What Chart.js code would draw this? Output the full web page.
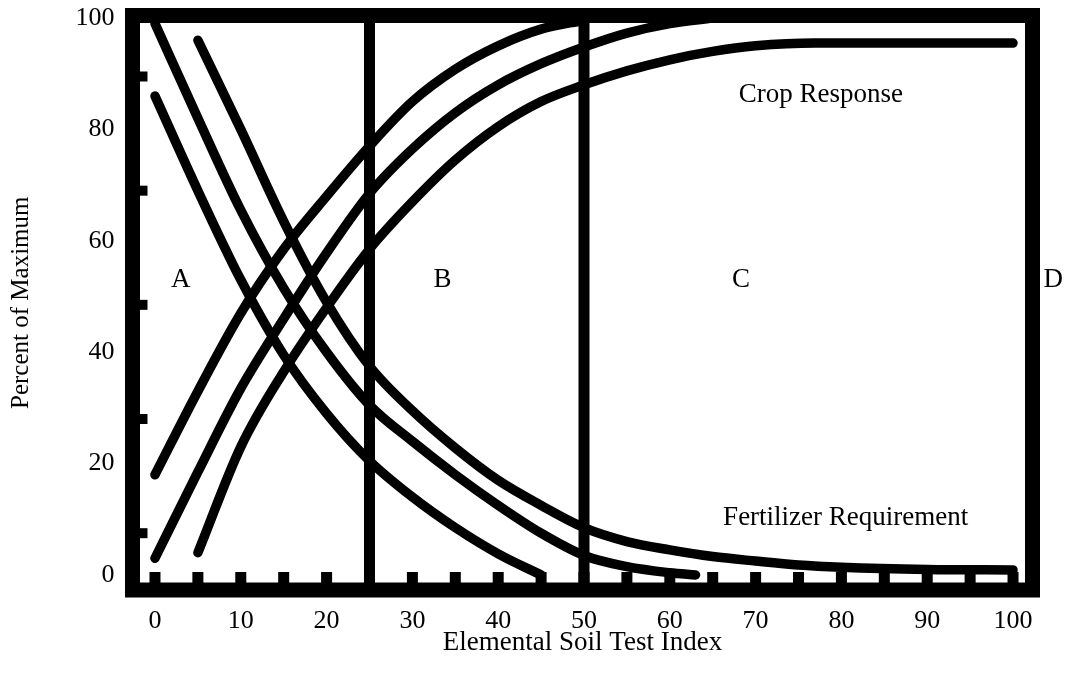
<!DOCTYPE html>
<html>
<head>
<meta charset="utf-8">
<script src="https://cdn.jsdelivr.net/npm/chart.js@4.4.1/dist/chart.umd.min.js"></script>
<style>
  html, body { margin: 0; padding: 0; background: #ffffff; }
  #wrap { width: 1080px; height: 675px; position: relative; }
</style>
</head>
<body>
<div id="wrap"><canvas id="c" width="1080" height="675"></canvas></div>
<script>
// ---------- data ----------
const xTickValues = [0, 10, 20, 30, 40, 50, 60, 70, 80, 90, 100];
const yTickValues = [0, 20, 40, 60, 80, 100];
const xMinorTicks = [0, 5, 10, 15, 20, 25, 30, 35, 40, 45, 50, 55, 60, 65, 70, 75, 80, 85, 90, 95, 100];
const yMinorTicks = [7.5, 28, 48.5, 69, 89.5];

// Crop response curves (x, y)
const crop1X = [0, 5, 10, 15, 20, 25, 30, 35, 40, 45, 50];
const crop1Y = [18, 33, 47, 58.5, 68, 77, 85, 90.8, 95, 98, 99.6];
const crop2X = [0, 5, 10, 15, 20, 25, 30, 35, 40, 45, 50, 55, 60, 65];
const crop2Y = [3, 18.5, 33.5, 46, 57.8, 68.5, 76.5, 83, 88, 91.8, 94.8, 97.3, 99, 100];
const crop3X = [5, 10, 15, 20, 25, 30, 35, 40, 45, 50, 55, 60, 65, 70, 77, 85, 90, 100];
const crop3Y = [4, 23, 36.5, 48, 58.5, 67, 74.5, 80.5, 85, 88, 90.5, 92.5, 94, 95, 95.5, 95.5, 95.5, 95.5];

// Fertilizer requirement curves (x, y)
const fert1X = [0, 5, 10, 15, 20, 25, 30, 35, 40, 45, 50, 55, 60, 63];
const fert1Y = [99, 82, 65.5, 51.5, 40, 30.5, 24, 18, 12.5, 7.5, 3.5, 1.5, 0.4, 0];
const fert2X = [0, 5, 10, 15, 20, 25, 30, 35, 40, 45];
const fert2Y = [86, 69, 53, 39.5, 29, 20.5, 14, 8.5, 3.8, 0];
const fert3X = [5, 10, 15, 20, 25, 30, 35, 40, 45, 50, 55, 60, 65, 70, 75, 80, 90, 100];
const fert3Y = [96, 80, 63.5, 49, 37.5, 29.5, 22.8, 17, 12.5, 8.5, 6, 4.5, 3.3, 2.5, 1.8, 1.4, 1, 0.9];

// Zone boundaries
const boundaryX = [25, 50];

// Text labels (data coordinates)
const zoneLabels = ["A", "B", "C", "D"];
const zoneLabelX = [3, 33.5, 68.3, 104.7];
const zoneLabelY = 53;
const noteLabels = ["Crop Response", "Fertilizer Requirement"];
const noteLabelX = [77.6, 80.5];
const noteLabelY = [86.2, 10.2];

// ---------- chart ----------
const X_MIN = -2.62, X_MAX = 102.27, Y_MIN = -2.7, Y_MAX = 100.45;
const FONT = "'Liberation Serif', 'Times New Roman', serif";

function pts(xs, ys) { return xs.map((x, i) => ({ x: x, y: ys[i] })); }

const curveStyle = {
  borderColor: '#000', borderWidth: 9.5, pointRadius: 0, fill: false,
  cubicInterpolationMode: 'monotone', borderCapStyle: 'round', borderJoinStyle: 'round'
};

const datasets = [
  Object.assign({ label: 'Crop response 1', data: pts(crop1X, crop1Y) }, curveStyle),
  Object.assign({ label: 'Crop response 2', data: pts(crop2X, crop2Y) }, curveStyle),
  Object.assign({ label: 'Crop response 3', data: pts(crop3X, crop3Y) }, curveStyle),
  Object.assign({ label: 'Fertilizer requirement 1', data: pts(fert1X, fert1Y) }, curveStyle),
  Object.assign({ label: 'Fertilizer requirement 2', data: pts(fert2X, fert2Y) }, curveStyle),
  Object.assign({ label: 'Fertilizer requirement 3', data: pts(fert3X, fert3Y) }, curveStyle)
];
boundaryX.forEach((bx, i) => {
  datasets.push({
    label: 'Boundary ' + (i + 1), data: [{ x: bx, y: Y_MIN }, { x: bx, y: Y_MAX }],
    borderColor: '#000', borderWidth: 11, pointRadius: 0, borderCapStyle: 'butt', tension: 0
  });
});

const framePlugin = {
  id: 'frame',
  afterDatasetsDraw(chart) {
    const { ctx, chartArea: a, scales: { x, y } } = chart;
    ctx.save();
    ctx.fillStyle = '#000';
    xMinorTicks.forEach(v => {
      const px = x.getPixelForValue(v);
      ctx.fillRect(px - 5.5, a.bottom - 18, 11, 18);
    });
    yMinorTicks.forEach(v => {
      const py = y.getPixelForValue(v);
      ctx.fillRect(a.left, py - 5, 15, 10);
    });
    ctx.strokeStyle = '#000';
    ctx.lineWidth = 15;
    ctx.lineJoin = 'miter';
    ctx.strokeRect(a.left, a.top, a.right - a.left, a.bottom - a.top);
    ctx.textAlign = 'center';
    ctx.textBaseline = 'middle';
    ctx.font = "27px " + FONT;
    zoneLabels.forEach((t, i) => {
      ctx.fillText(t, x.getPixelForValue(zoneLabelX[i]), y.getPixelForValue(zoneLabelY));
    });
    noteLabels.forEach((t, i) => {
      ctx.fillText(t, x.getPixelForValue(noteLabelX[i]), y.getPixelForValue(noteLabelY[i]));
    });
    ctx.restore();
  }
};

function zeroPad(s) { s.paddingTop = 0; s.paddingBottom = 0; s.paddingLeft = 0; s.paddingRight = 0; }

new Chart(document.getElementById('c'), {
  type: 'line',
  data: { datasets: datasets },
  options: {
    responsive: false,
    animation: false,
    events: [],
    layout: { padding: { top: 15.5, right: 47.5, bottom: 0, left: 0 } },
    plugins: { legend: { display: false }, tooltip: { enabled: false } },
    scales: {
      x: {
        type: 'linear', min: X_MIN, max: X_MAX,
        afterBuildTicks: s => { s.ticks = xTickValues.map(v => ({ value: v })); },
        afterFit: s => { s.height = 85; zeroPad(s); },
        grid: { display: false, drawTicks: false },
        border: { display: false },
        ticks: { color: '#000', padding: 16, maxRotation: 0, autoSkip: false, font: { family: FONT, size: 26 } },
        title: { display: true, text: 'Elemental Soil Test Index', color: '#000', font: { family: FONT, size: 27 }, padding: { top: 0, bottom: 16 } }
      },
      y: {
        type: 'linear', min: Y_MIN, max: Y_MAX,
        afterBuildTicks: s => { s.ticks = yTickValues.map(v => ({ value: v })); },
        afterFit: s => { s.width = 132.5; zeroPad(s); },
        grid: { display: false, drawTicks: false },
        border: { display: false },
        ticks: { color: '#000', padding: 18, autoSkip: false, font: { family: FONT, size: 26 } },
        title: { display: true, text: 'Percent of Maximum', color: '#000', font: { family: FONT, size: 25 }, padding: { top: 6, bottom: 0 } }
      }
    }
  },
  plugins: [framePlugin]
});
</script>
</body>
</html>
